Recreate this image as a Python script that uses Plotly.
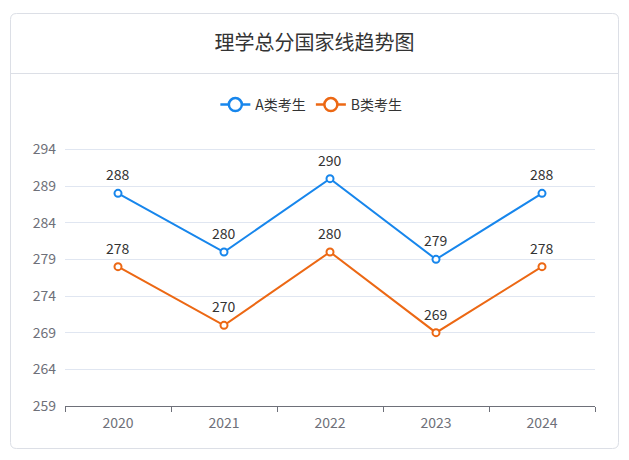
import plotly.graph_objects as go

years = ["2020", "2021", "2022", "2023", "2024"]
series_a = [288, 280, 290, 279, 288]
series_b = [278, 270, 280, 269, 278]
name_a = "A类考生"
name_b = "B类考生"
title = "理学总分国家线趋势图"
y_ticks = [259, 264, 269, 274, 279, 284, 289, 294]

W, H = 629, 460
L, R, T, B = 65, 34, 142, 54
pw, ph = W - L - R, H - T - B

def px(x):
    return (x - L) / pw

def py(y):
    return (H - B - y) / ph

blue = "#1786EC"
orange = "#EC6814"
font = "Noto Sans CJK SC, Noto Sans, sans-serif"

fig = go.Figure()
annotations = []
for name, vals, col in [(name_a, series_a, blue), (name_b, series_b, orange)]:
    fig.add_trace(go.Scatter(
        x=years, y=vals, name=name, mode="lines+markers", showlegend=False,
        line=dict(color=col, width=2),
        marker=dict(symbol="circle", size=7, color="white", line=dict(color=col, width=2)),
        cliponaxis=False,
    ))
    # legend-only entry with larger symbol
    fig.add_trace(go.Scatter(
        x=[None], y=[None], name=name, mode="lines+markers",
        line=dict(color=col, width=2.5),
        marker=dict(symbol="circle", size=13, color="white", line=dict(color=col, width=2.5)),
    ))
    for i, v in enumerate(vals):
        annotations.append(dict(x=i, y=v, xref="x", yref="y", text=str(v),
                                showarrow=False, yshift=19, xanchor="center", yanchor="middle",
                                font=dict(size=14, color="#333333", family=font)))

# card shapes
x0, x1, y0, y1, r = 10.5, 618.5, 13.5, 448.5, 6
path = (f"M {px(x0+r)},{py(y0)} L {px(x1-r)},{py(y0)} Q {px(x1)},{py(y0)} {px(x1)},{py(y0+r)} "
        f"L {px(x1)},{py(y1-r)} Q {px(x1)},{py(y1)} {px(x1-r)},{py(y1)} "
        f"L {px(x0+r)},{py(y1)} Q {px(x0)},{py(y1)} {px(x0)},{py(y1-r)} "
        f"L {px(x0)},{py(y0+r)} Q {px(x0)},{py(y0)} {px(x0+r)},{py(y0)} Z")
shapes = [
    dict(type="path", xref="paper", yref="paper", path=path,
         line=dict(color="#DCDFE6", width=1), layer="below"),
    dict(type="line", xref="paper", yref="paper", x0=px(x0), x1=px(x1),
         y0=py(73.5), y1=py(73.5), line=dict(color="#DCDFE6", width=1), layer="below"),
]

fig.update_layout(
    width=W, height=H, margin=dict(l=L, r=R, t=T, b=B),
    paper_bgcolor="white", plot_bgcolor="white",
    font=dict(family=font, color="#333333"),
    title=dict(text=title, x=0.5, xref="container", y=1 - 43 / H, yref="container",
               xanchor="center", yanchor="middle", font=dict(size=20, color="#333333")),
    legend=dict(orientation="h", x=0.495, xref="container", xanchor="center",
                y=1 - 105 / H, yref="container", yanchor="middle",
                font=dict(size=14, color="#333333"), itemwidth=30),
    shapes=shapes,
    xaxis=dict(type="category", range=[-0.5, 4.5], showgrid=False,
               showline=True, linecolor="#6E7079", linewidth=1,
               ticks="outside", tickson="boundaries", ticklen=5, tickcolor="#6E7079",
               tickfont=dict(size=14, color="#6E7079"), ticklabelstandoff=4,
               fixedrange=True),
    yaxis=dict(range=[259, 295], tickvals=y_ticks + [295],
               ticktext=[str(v) for v in y_ticks] + [""],
               showgrid=True, gridcolor="#E0E6F1", gridwidth=1,
               zeroline=False, showline=False, ticks="",
               tickfont=dict(size=14, color="#6E7079"), ticklabelstandoff=8),
)
for a in annotations:
    fig.add_annotation(**a)

fig.write_html("out.html")
